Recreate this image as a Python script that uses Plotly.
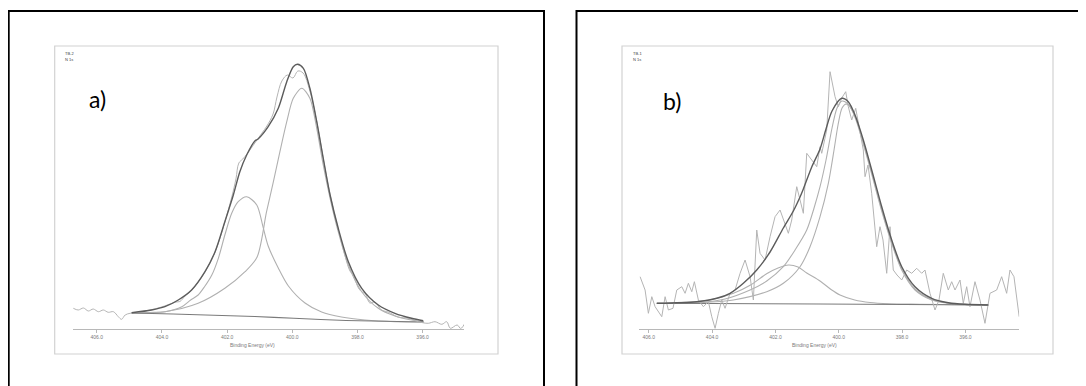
import plotly.graph_objects as go

# ---------------- data: panel a (TB-2, N 1s) ----------------
a_raw_be = [406.72, 406.57, 406.41, 406.26, 406.11, 405.95, 405.80, 405.65, 405.49, 405.34, 405.24, 405.13, 404.98,
            404.67, 404.37, 404.06, 403.75, 403.57, 403.45, 403.29, 403.08, 402.68, 402.37, 402.07, 401.85, 401.73,
            401.64, 401.52, 401.39, 401.15, 400.93, 400.78, 400.59, 400.47, 400.32, 400.15, 399.98, 399.83, 399.67,
            399.46, 399.24, 399.06, 398.84, 398.60, 398.38, 398.23, 398.13, 397.97, 397.86, 397.77, 397.62, 397.47,
            397.26, 397.06, 396.75, 396.44, 396.13, 395.83, 395.62, 395.41, 395.26, 395.15, 394.94, 394.83, 394.68]
a_raw_cps = [20.7, 19, 21, 18, 20, 17.3, 19, 16.7, 17.3, 12.3, 9.7, 14, 15.7,
             17, 19, 21.5, 25, 27, 27.5, 33, 39, 57, 77, 107, 133, 150,
             166, 170, 175, 186, 196, 203, 215, 232, 248, 254, 251, 258, 256,
             238, 206, 172, 134, 101, 73, 58, 54, 41, 37, 36, 26, 27,
             19, 17, 12, 10.7, 7.3, 5.7, 7.3, 4.7, 7.3, 0.7, 4, 0.5, 7.3]

a_env_be = [404.93, 404.32, 403.91, 403.50, 403.09, 402.68, 402.37, 402.07, 401.81, 401.61, 401.40, 401.15, 401.05,
            400.74, 400.43, 400.17, 399.97, 399.84, 399.66, 399.46, 399.25, 399.05, 398.84, 398.59, 398.28, 397.87,
            397.36, 396.85, 396.34, 395.98]
a_env_cps = [16.3, 19, 22.3, 29, 39, 57.3, 77.3, 107.3, 134, 157.3, 174, 188, 190,
             202.3, 220.7, 247.3, 262.3, 264.7, 260.7, 240.7, 207.3, 170.7, 134, 100.7, 67.3, 40.7,
             24, 15.7, 10.7, 8.3]

a_c1_be = [404.93, 403.91, 402.89, 402.07, 401.45, 401.08, 400.79, 400.58, 400.38, 400.17, 399.97, 399.71, 399.46,
           399.25, 399.05, 398.84, 398.59, 398.28, 397.87, 397.36, 396.85, 396.34, 395.98]
a_c1_cps = [16, 17.3, 25.7, 40.7, 57.3, 72, 117.3, 147.3, 177.3, 207.3, 230.7, 240.7, 230.7,
            200.7, 164, 130.7, 97.3, 64, 37.3, 20.7, 13, 9, 7.3]

a_c2_be = [404.93, 404.37, 403.91, 403.39, 403.12, 402.89, 402.70, 402.47, 402.27, 402.07, 401.86, 401.66, 401.40,
           401.09, 400.90, 400.74, 400.43, 400.12, 399.61, 399.10, 398.49, 397.77, 396.85, 395.98]
a_c2_cps = [15.7, 16.5, 17.3, 22.3, 29, 34, 42, 54, 70.7, 94, 115.7, 127.3, 132.3,
            124, 102.3, 83, 61, 43, 26, 17, 12, 9, 7.3, 7]

a_bg_be = [404.93, 403.66, 401.15, 399.95, 398.35, 395.96]
a_bg_cps = [16, 15, 12.5, 10.7, 8.5, 7]

# ---------------- data: panel b (TB-1, N 1s) ----------------
b_raw_be = [406.275, 406.117, 406.013, 405.905, 405.801, 405.590, 405.485, 405.381, 405.236, 405.116, 404.958,
            404.854, 404.750, 404.642, 404.560, 404.434, 404.276, 404.118, 404.011, 403.906, 403.802, 403.695,
            403.591, 403.433, 403.275, 403.117, 402.959, 402.801, 402.697, 402.590, 402.486, 402.328, 402.170,
            402.012, 401.854, 401.750, 401.592, 401.485, 401.327, 401.118, 401.011, 400.853, 400.695, 400.591,
            400.537, 400.380, 400.275, 400.117, 400.013, 399.906, 399.780, 399.698, 399.590, 399.464, 399.328,
            399.224, 399.170, 399.075, 398.959, 398.801, 398.697, 398.602, 398.485, 398.381, 398.277, 398.160,
            398.011, 397.854, 397.696, 397.538, 397.380, 397.276, 397.118, 396.960, 396.834, 396.698, 396.540,
            396.432, 396.328, 396.170, 396.066, 395.959, 395.855, 395.697, 395.539, 395.381, 395.223, 395.012,
            394.854, 394.696, 394.592, 394.465, 394.301]
b_raw_cps = [52.3, 39, 15.7, 32.3, 22.3, 12.3, 32.3, 19, 20.7, 39, 42.3,
             35.7, 45.7, 37.3, 47.3, 29, 22.3, 27.3, 12.3, 0.7, 15.7, 29,
             20.7, 35.7, 39, 55.7, 69, 52.3, 29, 99, 75.7, 69, 92.3,
             112.3, 119, 109, 95.7, 109, 142.3, 115.7, 175.7, 169, 162.3, 182.3,
             175.7, 199, 257.3, 232.3, 222.3, 231, 237.3, 222.3, 209, 220.7, 199,
             179, 152.3, 164, 135.7, 82.3, 102.3, 89, 55.7, 102.3, 59, 54,
             49, 59, 55.7, 60.7, 55.7, 59, 35.7, 19, 29, 55.7, 39,
             47.3, 39, 49, 25.7, 42.3, 22.3, 47.3, 29, 5.7, 35.7, 39,
             52.3, 35.7, 59, 52.3, 12.3]

b_env_be = [405.747, 404.484, 403.853, 403.433, 403.013, 402.590, 402.170, 401.750, 401.434, 401.223, 401.118,
            400.853, 400.591, 400.402, 400.212, 399.906, 399.698, 399.486, 399.224, 398.959, 398.643, 398.327,
            398.011, 397.591, 397.064, 396.540, 396.013, 395.277]
b_env_cps = [25.7, 27.3, 30.7, 35.7, 45.7, 59, 77, 101, 118, 132, 140,
             162, 180, 200, 218, 230.7, 227.3, 214, 189, 159, 122.3, 89,
             62.3, 42.3, 30.7, 26.3, 24.7, 24]

b_c1_be = [405.747, 404.380, 403.591, 402.801, 402.274, 401.750, 401.381, 401.011, 400.780, 400.591, 400.402,
           400.212, 400.054, 399.896, 399.707, 399.486, 399.224, 398.959, 398.643, 398.327, 398.011, 397.591,
           397.064, 396.540, 396.013, 395.277]
b_c1_cps = [25.5, 26.5, 30, 39, 48, 62.3, 79, 99, 121, 142.3, 169,
            201, 221, 228, 225, 213, 187, 157, 120, 87, 60.5, 40,
            29.5, 26, 24.7, 24]

b_c3_be = [405.747, 404.380, 403.329, 402.274, 401.750, 401.223, 400.907, 400.591, 400.329, 400.149, 400.023,
           399.896, 399.770, 399.644, 399.454, 399.224, 398.959, 398.643, 398.327, 398.011, 397.591, 397.064,
           396.540, 396.013, 395.277]
b_c3_cps = [25.5, 26.3, 29, 37.3, 45.7, 62.3, 82.3, 112.3, 145.7, 179, 204,
            221, 225, 222, 209, 185, 155, 118, 85.7, 59, 39, 29,
            25.7, 24.5, 24]

b_c2_be = [405.747, 404.964, 404.090, 403.326, 402.786, 402.265, 401.917, 401.586, 401.286, 401.011, 400.591,
           400.244, 399.960, 399.495, 399.012, 398.403, 397.434, 395.277]
b_c2_cps = [25.5, 26.5, 29, 35.7, 44, 55.5, 61, 64, 62, 56, 48,
            39.5, 34, 29, 26.5, 25.3, 24.8, 24]

b_bg_be = [405.747, 400.591, 395.277]
b_bg_cps = [25.7, 25, 24]

tick_vals = [406, 404, 402, 400, 398, 396]
tick_text = ["406.0", "404.0", "402.0", "400.0", "398.0", "396.0"]
x_title = "Binding Energy (eV)"
panel_labels = ["a)", "b)"]
sample_names = ["TB-2", "TB-1"]
region_name = "N 1s"

# ---------------- figure ----------------
# the page body has an 8px default margin, so the figure is placed at (8, 8)
OFF = 8
W, H = 1086 - OFF, 386 - OFF


def PX(x):
    return (x - OFF) / W


def PY(y):
    return 1 - (y - OFF) / H


RAW = "#b4b4b4"
COMP = "#b0b0b0"
ENV = "#5c5c5c"
BG = "#7a7a7a"

fig = go.Figure()


def add_panel(xa, ya, raw, env, comps, bg, raw_shape):
    for be, cps in comps:
        fig.add_trace(go.Scatter(x=be, y=cps, mode="lines", xaxis=xa, yaxis=ya,
                                 line=dict(color=COMP, width=1.1, shape="spline", smoothing=0.8),
                                 showlegend=False, hoverinfo="skip"))
    fig.add_trace(go.Scatter(x=bg[0], y=bg[1], mode="lines", xaxis=xa, yaxis=ya,
                             line=dict(color=BG, width=1.1, shape="spline", smoothing=0.6),
                             showlegend=False, hoverinfo="skip"))
    fig.add_trace(go.Scatter(x=raw[0], y=raw[1], mode="lines", xaxis=xa, yaxis=ya,
                             line=dict(color=RAW, width=1.0, shape=raw_shape),
                             showlegend=False, hoverinfo="skip"))
    fig.add_trace(go.Scatter(x=env[0], y=env[1], mode="lines", xaxis=xa, yaxis=ya,
                             line=dict(color=ENV, width=1.4, shape="spline", smoothing=0.8),
                             showlegend=False, hoverinfo="skip"))


add_panel("x", "y", (a_raw_be, a_raw_cps), (a_env_be, a_env_cps),
          [(a_c1_be, a_c1_cps), (a_c2_be, a_c2_cps)], (a_bg_be, a_bg_cps), "spline")
add_panel("x2", "y2", (b_raw_be, b_raw_cps), (b_env_be, b_env_cps),
          [(b_c1_be, b_c1_cps), (b_c3_be, b_c3_cps), (b_c2_be, b_c2_cps)], (b_bg_be, b_bg_cps), "linear")

xcommon = dict(anchor="free", position=PY(329), showline=True, linecolor="#b8b8b8", linewidth=1,
               ticks="outside", ticklen=3, tickwidth=1, tickcolor="#b8b8b8",
               tickmode="array", tickvals=tick_vals, ticktext=tick_text,
               tickfont=dict(size=5, color="#7a7a7a", family="Liberation Sans"),
               showgrid=False, zeroline=False, fixedrange=True)
ycommon = dict(domain=[PY(334), PY(49)], range=[-5, 280], visible=False, fixedrange=True)

fig.update_layout(
    width=W, height=H, margin=dict(l=0, r=0, t=0, b=0),
    paper_bgcolor="white", plot_bgcolor="rgba(0,0,0,0)",
    xaxis=dict(domain=[PX(72.7), PX(464)], range=[406.74, 394.73], **xcommon),
    xaxis2=dict(domain=[PX(639.3), PX(1019.2)], range=[406.30, 394.30], **xcommon),
    yaxis=dict(anchor="x", **ycommon),
    yaxis2=dict(anchor="x2", **ycommon),
    showlegend=False,
)

shapes = []
# outer black panel borders
for x0, x1 in [(8.7, 544), (576.5, 1085)]:
    shapes.append(dict(type="rect", xref="paper", yref="paper", x0=PX(x0), x1=PX(x1), y0=PY(11), y1=PY(400),
                       line=dict(color="black", width=2), fillcolor="rgba(0,0,0,0)", layer="above"))
# inner light frames of the embedded spectra
for x0, x1 in [(54.7, 498), (622, 1053)]:
    shapes.append(dict(type="rect", xref="paper", yref="paper", x0=PX(x0), x1=PX(x1), y0=PY(354), y1=PY(46),
                       line=dict(color="#d2d2d2", width=1.2), fillcolor="rgba(0,0,0,0)", layer="below"))
fig.update_layout(shapes=shapes)

ann = []
for lab, (cx, cy) in zip(panel_labels, [(97.5, 99), (671.7, 101)]):
    ann.append(dict(text=lab, x=PX(cx), y=PY(cy), xref="paper", yref="paper", showarrow=False,
                    xanchor="center", yanchor="middle", font=dict(size=23, color="black", family="Lato")))
for name, lx in zip(sample_names, [63, 630.5]):
    ann.append(dict(text=name, x=PX(lx), y=PY(54), xref="paper", yref="paper", showarrow=False,
                    xanchor="left", yanchor="middle", font=dict(size=4, color="#404040", family="Liberation Sans")))
    ann.append(dict(text=region_name, x=PX(lx), y=PY(59.5), xref="paper", yref="paper", showarrow=False,
                    xanchor="left", yanchor="middle", font=dict(size=4, color="#404040", family="Liberation Sans")))
for cx in [252.8, 814.8]:
    ann.append(dict(text=x_title, x=PX(cx), y=PY(344.5), xref="paper", yref="paper", showarrow=False,
                    xanchor="center", yanchor="middle", font=dict(size=5, color="#7a7a7a", family="Liberation Sans")))
fig.update_layout(annotations=ann)

fig.write_html("out.html")
